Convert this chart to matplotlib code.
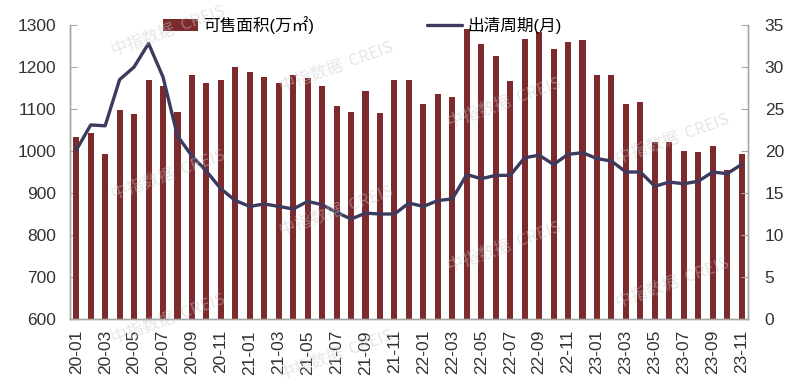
import numpy as np
import matplotlib
matplotlib.use("Agg")
import matplotlib.pyplot as plt

plt.rcParams["font.family"] = ["Liberation Sans", "Noto Sans CJK SC", "DejaVu Sans"]

# --- data ---
months = [f"{y:02d}-{m:02d}" for y in (20, 21, 22, 23) for m in range(1, 13)][:47]

area = [1034, 1042, 992, 1098, 1087, 1170, 1154, 1093, 1181, 1163, 1168, 1200,
        1187, 1176, 1163, 1181, 1173, 1155, 1106, 1093, 1142, 1090, 1168, 1168,
        1112, 1136, 1128, 1290, 1254, 1226, 1166, 1266, 1283, 1242, 1260, 1264,
        1180, 1180, 1113, 1117, 1021, 1021, 1001, 997, 1013, 955, 992]

cycle = [20.1, 23.1, 23.0, 28.5, 30.0, 32.8, 28.8, 21.8, 19.4, 17.6, 15.5, 14.1,
         13.4, 13.7, 13.4, 13.1, 14.0, 13.6, 12.7, 11.9, 12.6, 12.5, 12.5, 13.8,
         13.4, 14.1, 14.3, 17.2, 16.7, 17.1, 17.1, 19.2, 19.5, 18.4, 19.6, 19.8,
         19.1, 18.8, 17.5, 17.5, 15.8, 16.3, 16.1, 16.4, 17.5, 17.3, 18.4]

bar_label = "可售面积(万㎡)"
line_label = "出清周期(月)"

BAR_C = "#7C2A2B"
LINE_C = "#3E3A5E"
AXIS_C = "#A6A6A6"

W, H = 798, 389
fig = plt.figure(figsize=(W / 100, H / 100), dpi=100)
ax = fig.add_axes([70 / W, 1 - 319 / H, (748 - 70) / W, (319 - 25) / H])
ax2 = ax.twinx()

x = np.arange(len(months))
bars = ax.bar(x, area, width=0.42, color=BAR_C, label=bar_label, zorder=2)
line, = ax2.plot(x, cycle, color=LINE_C, lw=2.4, label=line_label,
                 solid_joinstyle="round", solid_capstyle="round", zorder=3)

ax.set_xlim(-0.43, len(months) - 1 + 0.44)
ax.set_ylim(600, 1300)
ax.set_yticks(range(600, 1301, 100))
ax2.set_ylim(0, 35)
ax2.set_yticks(range(0, 36, 5))

ax.set_xticks(x[::2])
ax.set_xticklabels(months[::2], rotation=90)

for a in (ax, ax2):
    a.spines["top"].set_visible(False)
    for s in ("left", "right", "bottom"):
        a.spines[s].set_color(AXIS_C)
        a.spines[s].set_linewidth(1.0)
    a.tick_params(labelsize=12.5, colors="#333333")
ax.tick_params(axis="y", direction="in", length=5, color=AXIS_C, pad=10)
ax2.tick_params(axis="y", direction="in", length=5, color=AXIS_C, pad=12)
ax.tick_params(axis="x", length=0, pad=8)
ax.set_zorder(ax2.get_zorder() - 1)
ax2.patch.set_visible(False)

fig.legend([bars, line], [bar_label, line_label], loc="upper left",
           bbox_to_anchor=(163 / W, 1 - 16 / H), ncol=2, frameon=False,
           fontsize=12, handlelength=2.1, handleheight=0.7, handletextpad=0.3,
           columnspacing=6.8, borderpad=0, borderaxespad=0)

# faint watermark tiles
for col in range(4):
    for base in (-113, 31, 175, 319):
        px = 168 + 168 * col
        py = base + 36 * col
        if 20 < py < H - 20:
            fig.text(px / W, 1 - py / H, "中指数据  CREIS", rotation=20,
                     ha="center", va="center", fontsize=12, color="#c8c8c8",
                     alpha=0.45, family=["Noto Sans CJK SC", "DejaVu Sans"],
                     zorder=10)

fig.savefig("out.png", dpi=100)
